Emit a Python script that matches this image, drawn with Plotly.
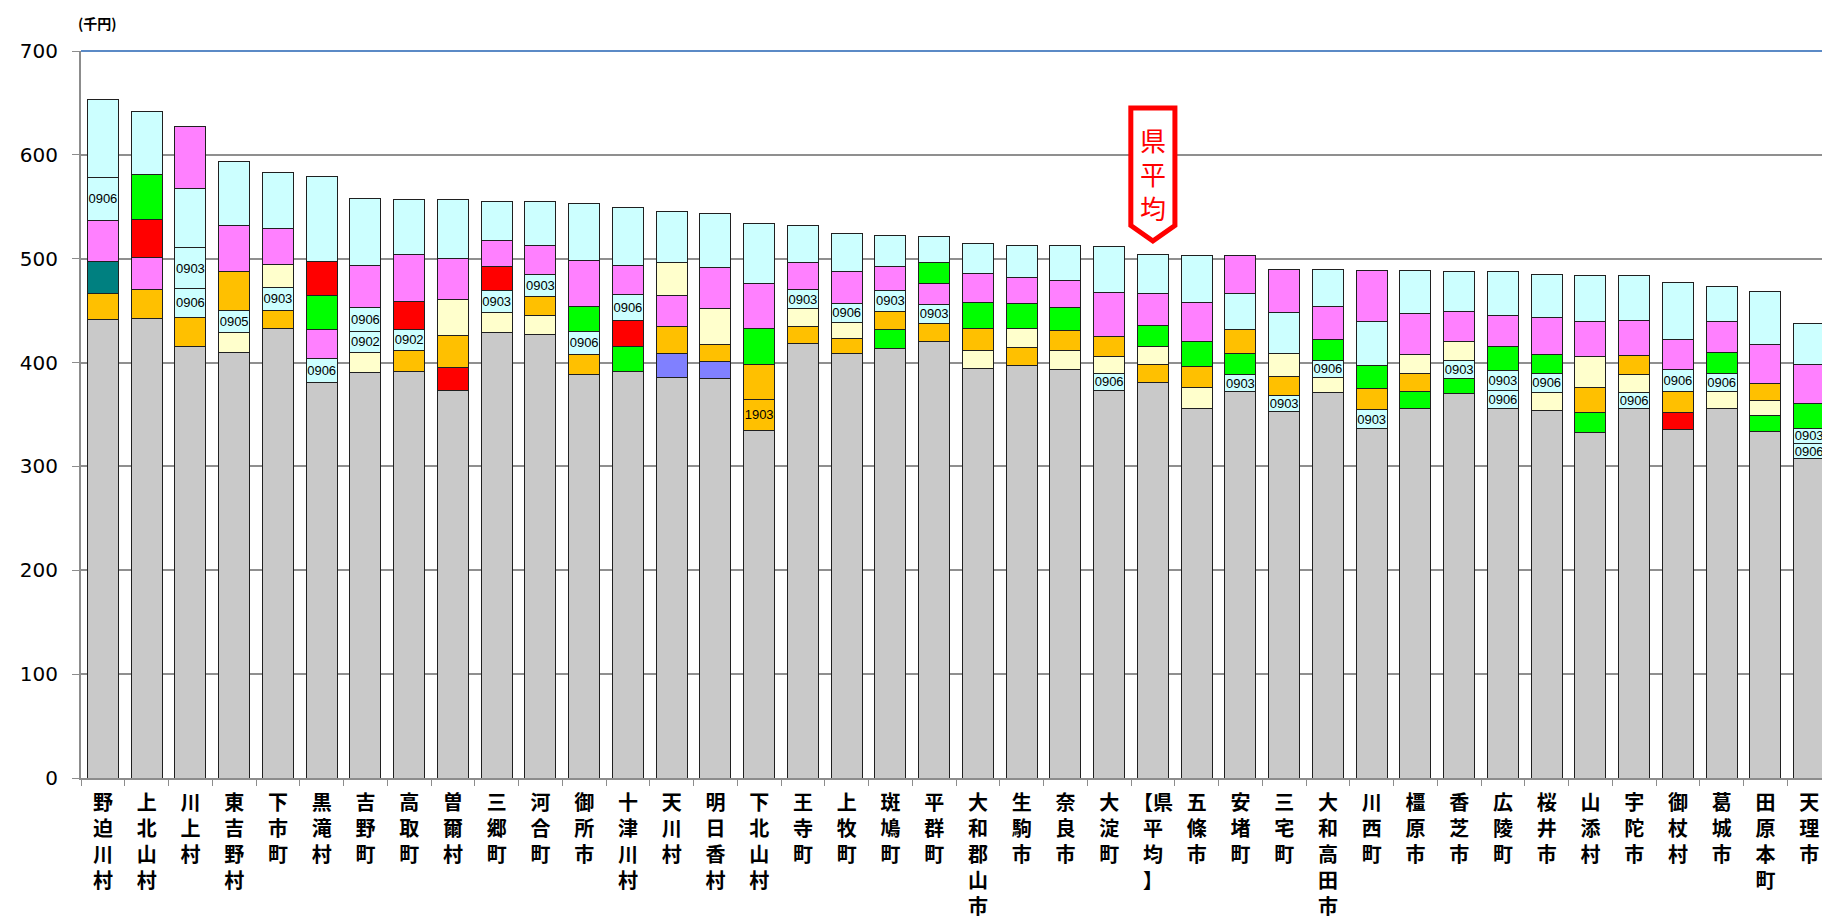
import plotly.graph_objects as go

# 市町村（左から順）
names = [
    "野迫川村", "上北山村", "川上村", "東吉野村", "下市町", "黒滝村", "吉野町", "高取町",
    "曽爾村", "三郷町", "河合町", "御所市", "十津川村", "天川村", "明日香村", "下北山村",
    "王寺町", "上牧町", "斑鳩町", "平群町", "大和郡山市", "生駒市", "奈良市", "大淀町",
    "【県平均】", "五條市", "安堵町", "三宅町", "大和高田市", "川西町", "橿原市", "香芝市",
    "広陵町", "桜井市", "山添村", "宇陀市", "御杖村", "葛城市", "田原本町", "天理市",
]

# 灰色の土台（千円）
base = [
    441.0, 442.2, 415.9, 409.4, 432.6, 380.6, 390.8, 391.5, 372.9, 429.3,
    427.1, 388.3, 391.8, 385.4, 385.1, 334.7, 418.7, 408.5, 413.9, 420.4,
    394.4, 397.6, 393.4, 373.5, 380.6, 355.6, 372.2, 352.7, 371.6, 336.2,
    356.1, 370.3, 356.1, 354.2, 332.7, 355.8, 335.3, 356.1, 334.0, 307.4,
]

# 積み上げ 1段目〜5段目（下から）: 値と区分
seg1_val = [
    25.6, 28.2, 27.9, 19.3, 17.6, 23.1, 19.3, 20.2, 22.8, 19.3,
    18.3, 19.5, 24.1, 23.4, 15.7, 29.8, 16.1, 15.1, 17.7, 17.6,
    17.6, 17.0, 18.6, 16.1, 17.6, 20.2, 16.1, 16.0, 14.1, 18.7,
    16.4, 14.4, 16.7, 17.0, 19.6, 15.4, 17.0, 16.1, 14.8, 14.4,
]
seg1_key = [
    "O", "O", "O", "Y", "O", "0906", "Y", "O", "R", "Y",
    "Y", "O", "G", "B", "B", "1903", "O", "O", "G", "O",
    "Y", "O", "Y", "0906", "O", "Y", "0903", "0903", "Y", "0903",
    "G", "G", "0906", "Y", "G", "0906", "R", "Y", "G", "0906",
]
seg2_val = [
    30.5, 31.1, 27.6, 21.8, 22.5, 28.5, 19.6, 20.5, 30.8, 20.8,
    18.3, 22.5, 24.7, 26.3, 16.3, 33.7, 17.0, 15.4, 17.9, 18.0,
    20.9, 17.9, 19.3, 16.0, 17.7, 20.8, 20.5, 18.3, 16.4, 19.8,
    17.0, 17.3, 19.9, 18.3, 23.7, 17.7, 20.2, 17.3, 15.0, 15.1,
]
seg2_key = [
    "T", "P", "0906", "0905", "0903", "P", "0902", "0902", "O", "0903",
    "O", "0906", "R", "O", "O", "O", "Y", "Y", "O", "0903",
    "O", "Y", "O", "Y", "Y", "O", "G", "O", "0906", "O",
    "O", "0903", "0903", "0906", "O", "Y", "O", "0906", "Y", "0903",
]
seg3_val = [
    39.5, 36.6, 39.1, 37.2, 21.8, 32.1, 23.1, 26.3, 34.3, 23.5,
    21.1, 24.1, 25.3, 29.5, 35.0, 34.7, 18.6, 17.6, 19.9, 19.9,
    25.3, 24.4, 21.8, 19.6, 19.5, 24.1, 23.4, 21.8, 20.5, 22.1,
    18.6, 18.6, 22.5, 18.6, 29.9, 17.9, 21.2, 20.5, 16.4, 24.0,
]
seg3_key = [
    "P", "R", "0903", "O", "Y", "G", "0906", "R", "Y", "R",
    "0903", "G", "0906", "P", "Y", "G", "0903", "0906", "0903", "P",
    "G", "G", "G", "O", "G", "G", "O", "Y", "G", "G",
    "Y", "Y", "G", "G", "Y", "O", "0906", "G", "O", "G",
]
seg4_val = [
    42.0, 43.3, 57.1, 44.3, 34.6, 33.4, 41.0, 45.3, 39.1, 25.0,
    28.0, 43.9, 27.9, 31.5, 39.8, 43.0, 26.3, 31.1, 22.8, 20.5,
    27.9, 24.7, 26.0, 42.0, 31.2, 36.9, 34.7, 39.8, 31.1, 42.6,
    39.1, 28.6, 29.8, 35.3, 34.0, 33.7, 28.8, 29.9, 37.5, 37.6,
]
seg4_key = [
    "0906", "G", "C", "P", "P", "R", "P", "P", "P", "P",
    "P", "P", "P", "Y", "P", "P", "P", "P", "P", "G",
    "P", "P", "P", "P", "P", "P", "C", "C", "P", "C",
    "P", "P", "P", "P", "P", "P", "P", "P", "P", "P",
]
seg5_val = [
    74.7, 60.6, 60.0, 61.6, 53.9, 81.8, 64.2, 53.2, 57.1, 37.5,
    42.0, 55.2, 55.2, 49.4, 51.6, 58.0, 35.6, 36.6, 30.2, 25.0,
    28.6, 31.2, 33.7, 44.6, 37.8, 45.8, 36.2, 41.3, 35.6, 49.4,
    41.1, 38.5, 42.7, 41.4, 43.9, 43.3, 54.9, 33.3, 51.0, 39.1,
]
seg5_key = [
    "C", "C", "P", "C", "C", "C", "C", "C", "C", "C",
    "C", "C", "C", "C", "C", "C", "C", "C", "C", "C",
    "C", "C", "C", "C", "C", "C", "P", "P", "C", "P",
    "C", "C", "C", "C", "C", "C", "C", "C", "C", "C",
]

colors = {
    "O": "#FFC000", "Y": "#FFFFCC", "G": "#00FF00", "R": "#FF0000",
    "P": "#FF80FF", "C": "#CCFFFF", "T": "#008080", "B": "#8080FF",
    "0902": "#CCFFFF", "0903": "#CCFFFF", "0905": "#CCFFFF", "0906": "#CCFFFF",
    "1903": "#FFC000",
}

labels = ["<br>".join(["【県"] + list("平均") + ["】"]) if n == "【県平均】" else "<br>".join(n)
          for n in names]

fig = go.Figure()

fig.add_trace(go.Bar(
    x=labels, y=base,
    marker=dict(color="#C9C9C9", line=dict(color="#202020", width=1)),
    hovertemplate="%{x}<br>%{y}<extra></extra>",
))

for vals, keys in [(seg1_val, seg1_key), (seg2_val, seg2_key), (seg3_val, seg3_key),
                   (seg4_val, seg4_key), (seg5_val, seg5_key)]:
    fig.add_trace(go.Bar(
        x=labels, y=vals,
        marker=dict(color=[colors[k] for k in keys], line=dict(color="#202020", width=1)),
        text=[k if k[0].isdigit() else "" for k in keys],
        textposition="inside",
        insidetextanchor="middle",
        textangle=0,
        textfont=dict(family="Liberation Sans Narrow, Arial", size=13, color="black"),
        hovertemplate="%{x}<br>%{y}<extra></extra>",
    ))

# 県平均の吹き出し
avg_i = names.index("【県平均】")
xc = (avg_i + 0.5) / len(names)
hw = 0.0126
fig.add_shape(
    type="path", xref="paper", yref="y",
    path=f"M {xc-hw},645 L {xc+hw},645 L {xc+hw},532 L {xc},517 L {xc-hw},532 Z",
    fillcolor="white", line=dict(color="#FF0000", width=5),
)
fig.add_annotation(
    x=xc, y=582, xref="paper", yref="y", text="県<br>平<br>均", showarrow=False,
    font=dict(family="Noto Sans CJK JP", size=26, color="#FF0000"),
)

# 外枠（上・右）
fig.add_shape(type="line", xref="paper", yref="paper", x0=0, x1=1, y0=1, y1=1,
              line=dict(color="#5B8AC6", width=2))
fig.add_shape(type="line", xref="paper", yref="paper", x0=1, x1=1, y0=0, y1=1,
              line=dict(color="#5B8AC6", width=2))

fig.add_annotation(
    x=-0.003, y=1.038, xref="paper", yref="paper", text="<b>(千円)</b>",
    showarrow=False, xanchor="left", yanchor="middle",
    font=dict(family="Noto Sans CJK JP", size=14, color="black"),
)

fig.update_layout(
    width=1830, height=919, autosize=False,
    barmode="stack", bargap=0.29, showlegend=False,
    plot_bgcolor="white", paper_bgcolor="white",
    margin=dict(l=73, r=7, t=43, b=149),
    uniformtext=dict(minsize=12, mode="show"),
    xaxis=dict(
        type="category", tickson="boundaries", ticks="outside", ticklen=6,
        tickcolor="#8C8C8C", showline=True, linecolor="#8C8C8C", linewidth=2,
        showgrid=False, automargin=False, ticklabelstandoff=6, tickangle=0,
        tickfont=dict(family="Noto Sans CJK JP", size=20, color="black", weight="bold"),
    ),
    yaxis=dict(
        range=[0, 700], dtick=100, ticks="outside", ticklen=7, tickcolor="#8C8C8C",
        showline=True, linecolor="#8C8C8C", linewidth=2,
        showgrid=True, gridcolor="#8F8F8F", gridwidth=1.5, zeroline=False,
        automargin=False, ticklabelstandoff=10,
        tickfont=dict(family="DejaVu Sans", size=20, color="black"),
    ),
)

fig.write_html("out.html")
